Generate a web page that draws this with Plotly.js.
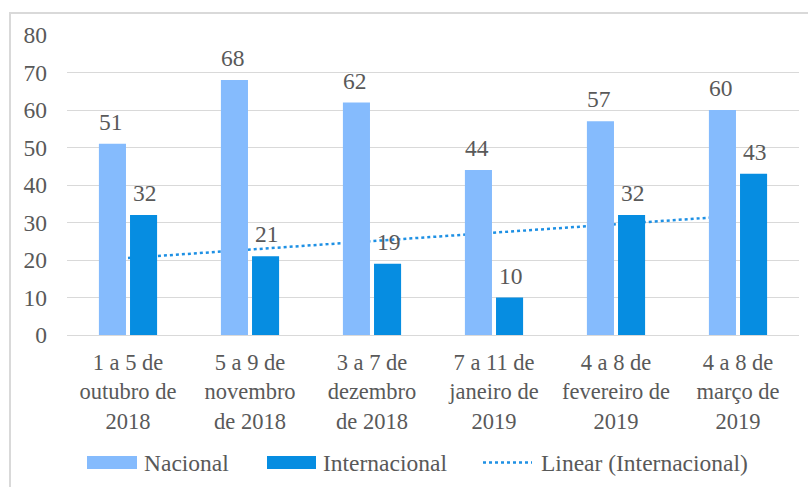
<!DOCTYPE html>
<html>
<head>
<meta charset="utf-8">
<script src="https://cdn.plot.ly/plotly-3.0.1.min.js"></script>
<style>
  html, body { margin: 0; padding: 0; background: #fff; }
  #wrap { position: relative; width: 808px; height: 487px; overflow: hidden; }
  #chart { position: absolute; left: 0; top: 0; width: 808px; height: 487px; }
  #frame { position: absolute; left: 9px; top: 12px; width: 820px; height: 500px;
           border-top: 2px solid #d9d9d9; border-left: 2px solid #d9d9d9; pointer-events: none; }
</style>
</head>
<body>
<div id="wrap"><div id="chart"></div><div id="frame"></div></div>
<script>
// ---- data ----
const categories = [
  "1 a 5 de<br>outubro de<br>2018",
  "5 a 9 de<br>novembro<br>de 2018",
  "3 a 7 de<br>dezembro<br>de 2018",
  "7 a 11 de<br>janeiro de<br>2019",
  "4 a 8 de<br>fevereiro de<br>2019",
  "4 a 8 de<br>março de<br>2019"
];
const nacional = [51, 68, 62, 44, 57, 60];
const internacional = [32, 21, 19, 10, 32, 43];
const seriesNames = ["Nacional", "Internacional", "Linear (Internacional)"];
const yTicks = [0, 10, 20, 30, 40, 50, 60, 70, 80];

// ---- linear trend (least squares on Internacional) ----
const n = internacional.length;
const xs = internacional.map((_, i) => i + 1);
const mx = xs.reduce((a, b) => a + b, 0) / n;
const my = internacional.reduce((a, b) => a + b, 0) / n;
let sxy = 0, sxx = 0;
for (let i = 0; i < n; i++) { sxy += (xs[i] - mx) * (internacional[i] - my); sxx += (xs[i] - mx) ** 2; }
const slope = sxy / sxx, icpt = my - slope * mx;
const trend = xs.map(x => icpt + slope * x);

// ---- style ----
const FONT = "Liberation Serif";
const FS = 23.5;
const FSX = 22.5;
const TXT = "#595959";
const C_NAC = "#85BBFD";
const C_INT = "#068DE1";
const C_TREND = "#1E90E4";
const GRID = "#d9d9d9";

const W = 808, H = 487, L = 67, R = 9, T = 35, B = 152;
const pw = W - L - R, ph = H - T - B;
const px = x => (x - L) / pw;
const py = y => (H - B - y) / ph;

const traces = [
  { type: "scatter", mode: "lines", x: categories, y: trend, name: seriesNames[2],
    line: { color: C_TREND, width: 2.5, dash: "dot" }, xaxis: "x", yaxis: "y",
    hoverinfo: "skip", showlegend: false },
  { type: "bar", x: categories, y: nacional, name: seriesNames[0], marker: { color: C_NAC },
    xaxis: "x2", yaxis: "y2", showlegend: false },
  { type: "bar", x: categories, y: internacional, name: seriesNames[1], marker: { color: C_INT },
    xaxis: "x2", yaxis: "y2", showlegend: false }
];

const off = 0.143;
const annotations = [];
nacional.forEach((v, i) => annotations.push({ xref: "x2", yref: "y2", x: i - off, y: v, text: String(v),
  showarrow: false, yanchor: "bottom", yshift: 7, font: { family: FONT, size: FS, color: TXT } }));
internacional.forEach((v, i) => annotations.push({ xref: "x2", yref: "y2", x: i + off, y: v, text: String(v),
  showarrow: false, yanchor: "bottom", yshift: 7, font: { family: FONT, size: FS, color: TXT } }));

// manual legend
const legY = 462.5;
const shapes = [
  { type: "rect", xref: "paper", yref: "paper", x0: px(87), x1: px(137), y0: py(456), y1: py(469),
    fillcolor: C_NAC, line: { width: 0 } },
  { type: "rect", xref: "paper", yref: "paper", x0: px(267), x1: px(316), y0: py(456), y1: py(469),
    fillcolor: C_INT, line: { width: 0 } },
  { type: "line", xref: "paper", yref: "paper", x0: px(483), x1: px(532), y0: py(legY), y1: py(legY),
    line: { color: C_TREND, width: 2.5, dash: "dot" } }
];
[[142, seriesNames[0]], [321, seriesNames[1]], [539, seriesNames[2]]].forEach(([x, t]) =>
  annotations.push({ xref: "paper", yref: "paper", x: px(x), y: py(legY), xanchor: "left", yanchor: "middle",
    text: t, showarrow: false, font: { family: FONT, size: FS, color: TXT } }));

const layout = {
  width: W, height: H, autosize: false,
  margin: { l: L, r: R, t: T, b: B, pad: 0 },
  paper_bgcolor: "#ffffff", plot_bgcolor: "rgba(0,0,0,0)",
  font: { family: FONT, size: FS, color: TXT },
  showlegend: false,
  barmode: "group", bargap: 0.49, bargroupgap: 0.13,
  xaxis: { type: "category", categoryarray: categories, range: [-0.5, 5.5], showgrid: false,
    showline: true, linecolor: GRID, linewidth: 1, ticks: "", ticklabelstandoff: 7,
    tickfont: { family: FONT, size: FSX, color: TXT }, fixedrange: true },
  yaxis: { range: [0, 80], tickvals: yTicks, showgrid: true, gridcolor: GRID, gridwidth: 1,
    zeroline: false, showline: false, ticks: "", ticklabelstandoff: 19,
    tickfont: { family: FONT, size: FS, color: TXT }, fixedrange: true },
  xaxis2: { type: "category", categoryarray: categories, range: [-0.5, 5.5], overlaying: "x",
    showgrid: false, showline: false, showticklabels: false, ticks: "", zeroline: false },
  yaxis2: { range: [0, 80], overlaying: "y", showgrid: false, showline: false,
    showticklabels: false, ticks: "", zeroline: false },
  annotations: annotations,
  shapes: shapes
};

Plotly.newPlot("chart", traces, layout, { displayModeBar: false, staticPlot: true });
</script>
</body>
</html>
